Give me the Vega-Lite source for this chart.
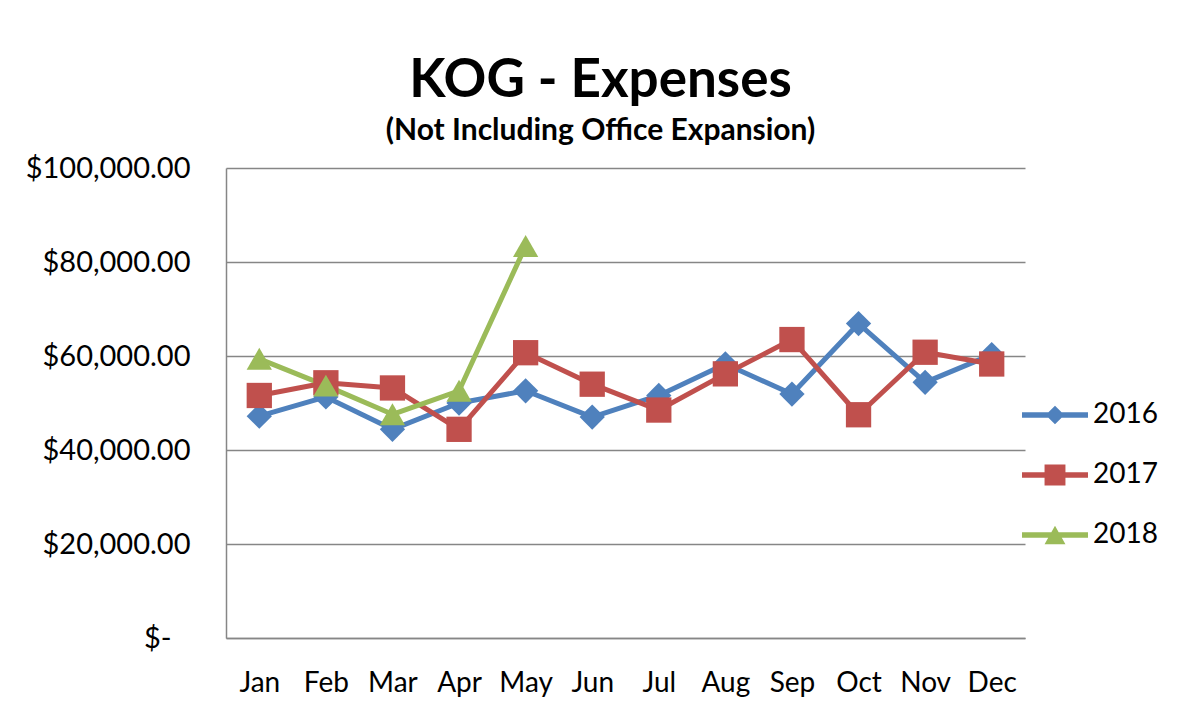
{
  "$schema": "https://vega.github.io/schema/vega-lite/v6.json",
  "autosize": "none",
  "width": 799,
  "height": 470,
  "padding": {"left": 226, "top": 168, "right": 156, "bottom": 76},
  "background": "white",
  "config": {
    "font": "Lato",
    "view": {"stroke": null}
  },
  "title": {
    "text": "KOG - Expenses",
    "subtitle": "(Not Including Office Expansion)",
    "anchor": "middle",
    "dx": -25,
    "offset": 8,
    "fontSize": 53,
    "fontWeight": "bold",
    "color": "#000000",
    "subtitleFontSize": 30,
    "subtitleFontWeight": "bold",
    "subtitleColor": "#000000",
    "subtitlePadding": 8,
    "font": "Lato",
    "subtitleFont": "Lato"
  },
  "data": {
    "values": [
      {"month": "Jan", "year": "2016", "value": 47200},
      {"month": "Feb", "year": "2016", "value": 51300},
      {"month": "Mar", "year": "2016", "value": 44400},
      {"month": "Apr", "year": "2016", "value": 50000},
      {"month": "May", "year": "2016", "value": 52600},
      {"month": "Jun", "year": "2016", "value": 47000},
      {"month": "Jul", "year": "2016", "value": 51600},
      {"month": "Aug", "year": "2016", "value": 58300},
      {"month": "Sep", "year": "2016", "value": 51900},
      {"month": "Oct", "year": "2016", "value": 66900},
      {"month": "Nov", "year": "2016", "value": 54400},
      {"month": "Dec", "year": "2016", "value": 60300},
      {"month": "Jan", "year": "2017", "value": 51600},
      {"month": "Feb", "year": "2017", "value": 54300},
      {"month": "Mar", "year": "2017", "value": 53200},
      {"month": "Apr", "year": "2017", "value": 44400},
      {"month": "May", "year": "2017", "value": 60700},
      {"month": "Jun", "year": "2017", "value": 54000},
      {"month": "Jul", "year": "2017", "value": 48500},
      {"month": "Aug", "year": "2017", "value": 56200},
      {"month": "Sep", "year": "2017", "value": 63500},
      {"month": "Oct", "year": "2017", "value": 47500},
      {"month": "Nov", "year": "2017", "value": 60800},
      {"month": "Dec", "year": "2017", "value": 58300},
      {"month": "Jan", "year": "2018", "value": 59400},
      {"month": "Feb", "year": "2018", "value": 53700},
      {"month": "Mar", "year": "2018", "value": 47600},
      {"month": "Apr", "year": "2018", "value": 52600},
      {"month": "May", "year": "2018", "value": 83400}
    ]
  },
  "encoding": {
    "x": {
      "field": "month",
      "type": "ordinal",
      "sort": ["Jan","Feb","Mar","Apr","May","Jun","Jul","Aug","Sep","Oct","Nov","Dec"],
      "scale": {"type": "point", "padding": 0.5},
      "axis": {
        "title": null,
        "labelAngle": 0,
        "labelFontSize": 28,
        "labelColor": "#000000",
        "labelPadding": 31,
        "ticks": false,
        "domainColor": "#868686",
        "domainWidth": 1.5,
        "grid": false
      }
    },
    "y": {
      "field": "value",
      "type": "quantitative",
      "scale": {"domain": [0, 100000], "nice": false},
      "axis": {
        "title": null,
        "values": [0, 20000, 40000, 60000, 80000, 100000],
        "labelExpr": "datum.value == 0 ? '$-' : '$' + format(datum.value, ',.2f')",
        "labelFontSize": 29,
        "labelColor": "#000000",
        "labelPadding": {"condition": {"test": "datum.value == 0", "value": 55}, "value": 36},
        "ticks": false,
        "domainColor": "#868686",
        "domainWidth": 1.5,
        "gridColor": "#868686",
        "gridWidth": 1.5
      }
    }
  },
  "layer": [
    {
      "mark": {"type": "line", "strokeWidth": 5, "strokeJoin": "round", "strokeCap": "round"},
      "encoding": {
        "color": {
          "field": "year",
          "type": "nominal",
          "scale": {"domain": ["2016","2017","2018"], "range": ["#4F81BD","#C0504D","#9BBB59"]},
          "legend": null
        }
      }
    },
    {
      "mark": {"type": "point", "filled": true, "opacity": 1},
      "encoding": {
        "color": {
          "field": "year",
          "type": "nominal",
          "scale": {"domain": ["2016","2017","2018"], "range": ["#4F81BD","#C0504D","#9BBB59"]},
          "legend": null
        },
        "shape": {
          "field": "year",
          "type": "nominal",
          "scale": {"domain": ["2016","2017","2018"], "range": ["diamond","square","triangle-up"]},
          "legend": null
        },
        "size": {"value": 640}
      }
    },
    {
      "transform": [{"filter": "datum.year == 'none'"}],
      "mark": {"type": "point", "filled": true, "opacity": 1},
      "encoding": {
        "color": {
          "field": "year",
          "type": "nominal",
          "scale": {"domain": ["2016","2017","2018"], "range": ["#4F81BD","#C0504D","#9BBB59"]},
          "legend": {
            "title": null,
            "orient": "none",
            "legendX": 815,
            "legendY": 233,
            "labelFontSize": 28,
            "labelColor": "#000000",
            "labelOffset": 24,
            "rowPadding": 32,
            "symbolSize": 484,
            "symbolStrokeWidth": 0,
            "symbolOpacity": 1,
            "padding": 0
          }
        },
        "shape": {
          "field": "year",
          "type": "nominal",
          "scale": {
            "domain": ["2016","2017","2018"],
            "range": [
              "M-3,-0.24L3,-0.24L3,0.24L-3,0.24Z M0,-0.85L0.85,0L0,0.85L-0.85,0Z",
              "M-3,-0.24L3,-0.24L3,0.24L-3,0.24Z M-0.95,-0.95L0.95,-0.95L0.95,0.95L-0.95,0.95Z",
              "M-3,-0.24L3,-0.24L3,0.24L-3,0.24Z M0,-0.85L0.95,0.85L-0.95,0.85Z"
            ]
          },
          "legend": {
            "title": null,
            "orient": "none",
            "legendX": 815,
            "legendY": 233,
            "labelFontSize": 28,
            "labelColor": "#000000",
            "labelOffset": 24,
            "rowPadding": 32,
            "symbolSize": 484,
            "symbolStrokeWidth": 0,
            "symbolOpacity": 1,
            "padding": 0
          }
        }
      }
    }
  ],
  "resolve": {"scale": {"color": "independent", "shape": "independent"}, "legend": {"color": "independent", "shape": "independent"}}
}
